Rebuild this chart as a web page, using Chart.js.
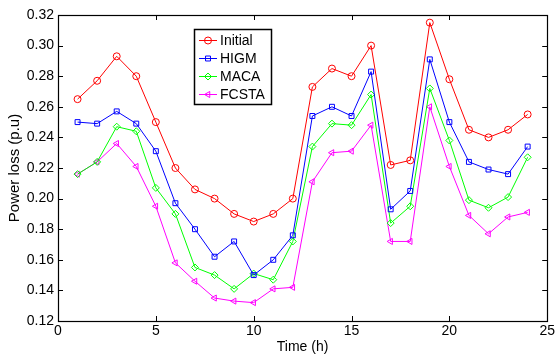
<!DOCTYPE html>
<html><head><meta charset="utf-8">
<script src="https://cdn.jsdelivr.net/npm/chart.js@4/dist/chart.umd.min.js"></script>
<style>html,body{margin:0;padding:0;background:#fff}#wrap{width:557px;height:361px}</style>
</head><body><div id="wrap"><canvas id="c" width="557" height="361"></canvas></div>
<script>
const hours = [1,2,3,4,5,6,7,8,9,10,11,12,13,14,15,16,17,18,19,20,21,22,23,24];
const initialLoss = [0.265,0.277,0.293,0.280,0.250,0.220,0.206,0.200,0.190,0.185,0.190,0.200,0.273,0.285,0.280,0.300,0.222,0.225,0.315,0.278,0.245,0.240,0.245,0.255];
const higmLoss = [0.250,0.249,0.257,0.249,0.231,0.197,0.180,0.162,0.172,0.150,0.160,0.176,0.254,0.260,0.254,0.283,0.193,0.205,0.291,0.250,0.224,0.219,0.216,0.234];
const macaLoss = [0.216,0.224,0.247,0.244,0.207,0.190,0.155,0.150,0.141,0.151,0.147,0.172,0.234,0.249,0.248,0.268,0.184,0.195,0.272,0.238,0.199,0.194,0.201,0.227];
const fcstaLoss = [0.216,0.224,0.236,0.221,0.195,0.158,0.146,0.135,0.133,0.132,0.141,0.142,0.211,0.230,0.231,0.248,0.172,0.172,0.260,0.221,0.189,0.177,0.188,0.191];
const seriesNames = ['Initial','HIGM','MACA','FCSTA'];
const xTicks = [0,5,10,15,20,25];
const yTicks = [0.12,0.14,0.16,0.18,0.20,0.22,0.24,0.26,0.28,0.30,0.32];

const FONT = '"Liberation Sans", Arial, sans-serif';
function pts(arr){ return hours.map((h,i)=>({x:h,y:arr[i]})); }
function ds(name, data, color, style, rot){
  return {label:name, data:pts(data), borderColor:color, backgroundColor:color, borderWidth:1,
    pointStyle:style, pointRotation:rot||0, pointRadius:3.5, pointBorderColor:color,
    pointBackgroundColor:'rgba(0,0,0,0)', pointBorderWidth:1, tension:0, fill:false};
}
const frame = {
  id:'frame',
  afterDraw(chart){
    const {ctx, chartArea:a, scales:{x,y}} = chart;
    ctx.save();
    ctx.strokeStyle='#000'; ctx.lineWidth=1;
    const L=5;
    ctx.beginPath();
    xTicks.forEach(v=>{const p=Math.round(x.getPixelForValue(v))+0.5;
      ctx.moveTo(p,a.bottom); ctx.lineTo(p,a.bottom-L);
      ctx.moveTo(p,a.top); ctx.lineTo(p,a.top+L);});
    yTicks.forEach(v=>{const p=Math.round(y.getPixelForValue(v))+0.5;
      ctx.moveTo(a.left,p); ctx.lineTo(a.left+L,p);
      ctx.moveTo(a.right,p); ctx.lineTo(a.right-L,p);});
    ctx.stroke();
    ctx.lineWidth=1.2;
    ctx.strokeRect(Math.round(a.left)+0.5, Math.round(a.top)+0.5, Math.round(a.right-a.left), Math.round(a.bottom-a.top));
    // legend
    const bx=194, by=29, bw=77, bh=75;
    ctx.fillStyle='#fff'; ctx.fillRect(bx,by,bw,bh);
    ctx.strokeStyle='#000'; ctx.lineWidth=1.5; ctx.strokeRect(bx+0.5,by+0.5,bw,bh);
    chart.data.datasets.forEach((d,i)=>{
      const yy = by+11+i*18;
      ctx.strokeStyle=d.borderColor; ctx.lineWidth=1;
      ctx.beginPath(); ctx.moveTo(bx+5,yy+0.5); ctx.lineTo(bx+23,yy+0.5); ctx.stroke();
      ctx.fillStyle='rgba(0,0,0,0)';
      Chart.helpers.drawPoint(ctx,{pointStyle:d.pointStyle,rotation:d.pointRotation,radius:3.5,borderWidth:1}, bx+14, yy+0.5);
      ctx.fillStyle='#000'; ctx.font='14px '+FONT; ctx.textBaseline='middle'; ctx.textAlign='left';
      ctx.fillText(d.label, bx+26, yy+1);
    });
    ctx.restore();
  }
};
new Chart(document.getElementById('c'),{
  type:'line',
  data:{datasets:[
    ds(seriesNames[0], initialLoss, '#ff0000','circle'),
    ds(seriesNames[1], higmLoss, '#0000ff','rect'),
    ds(seriesNames[2], macaLoss, '#00ff00','rectRot'),
    ds(seriesNames[3], fcstaLoss, '#ff00ff','triangle',-90)
  ]},
  options:{
    responsive:false, animation:false, devicePixelRatio:1,
    layout:{padding:{left:0,right:9,top:15,bottom:0}},
    plugins:{legend:{display:false}, tooltip:{enabled:false}},
    scales:{
      x:{type:'linear', min:0, max:25,
        afterBuildTicks(s){ s.ticks = xTicks.map(v=>({value:v})); },
        afterFit(s){ s.height=40; },
        grid:{display:false, drawTicks:false}, border:{display:false},
        ticks:{color:'#000', font:{family:FONT,size:14}, padding:2, maxRotation:0},
        title:{display:true, text:'Time (h)', color:'#000', font:{family:FONT,size:14}, padding:{top:0,bottom:5}}
      },
      y:{type:'linear', min:0.12, max:0.32,
        afterBuildTicks(s){ s.ticks = yTicks.map(v=>({value:v})); },
        afterFit(s){ s.width=58; },
        grid:{display:false, drawTicks:false}, border:{display:false},
        ticks:{color:'#000', font:{family:FONT,size:14}, padding:4, callback:v=>v.toFixed(2)},
        title:{display:true, text:'Power loss (p.u)', color:'#000', font:{family:FONT,size:15}, padding:{top:6,bottom:0}}
      }
    }
  },
  plugins:[frame]
});
</script></body></html>
